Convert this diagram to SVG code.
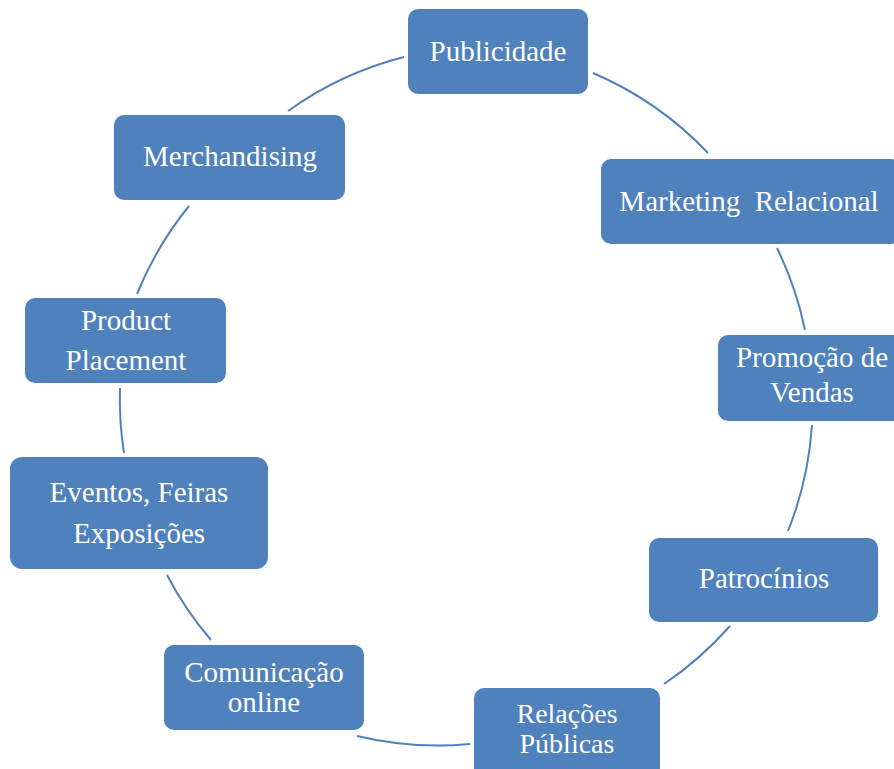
<svg xmlns="http://www.w3.org/2000/svg" width="894" height="769" viewBox="0 0 894 769">
<style>
.box{fill:#4F81BD;}
.t{font-family:"Liberation Serif","DejaVu Serif",serif;font-size:29px;fill:#FFFFFF;text-anchor:middle;}
.c{fill:none;stroke:#4F81BD;stroke-width:2;}
</style>
<rect width="894" height="769" fill="#FFFFFF"/>
<g id="connectors">
<path class="c" d="M288,111 A345,345 0 0 1 404,57"/>
<path class="c" d="M593,73 A345,345 0 0 1 708,153"/>
<path class="c" d="M777,248 A345,345 0 0 1 805,330"/>
<path class="c" d="M812,425 A345,345 0 0 1 788,531"/>
<path class="c" d="M730,626 A345,345 0 0 1 664,684"/>
<path class="c" d="M470,744 A345,345 0 0 1 357,736"/>
<path class="c" d="M211,640 A345,345 0 0 1 167,575"/>
<path class="c" d="M124,453 A345,345 0 0 1 120,388"/>
<path class="c" d="M137,294 A345,345 0 0 1 189,206"/>
</g>
<g id="publicidade">
<rect class="box" x="408" y="9" width="180" height="85" rx="10"/>
<text class="t" x="498" y="61">Publicidade</text>
</g>
<g id="marketing-relacional">
<rect class="box" x="601" y="159" width="300" height="85" rx="10"/>
<text class="t" x="749" y="211" xml:space="preserve">Marketing  Relacional</text>
</g>
<g id="promocao-vendas">
<rect class="box" x="718" y="335" width="190" height="86" rx="10"/>
<text class="t" x="812" y="367">Promoção de</text>
<text class="t" x="812" y="402">Vendas</text>
</g>
<g id="patrocinios">
<rect class="box" x="649" y="538" width="229" height="84" rx="10"/>
<text class="t" x="764" y="588">Patrocínios</text>
</g>
<g id="relacoes-publicas">
<rect class="box" x="474" y="688" width="186" height="95" rx="10"/>
<text class="t" x="567" y="723" style="font-size:28px">Relações</text>
<text class="t" x="567" y="753" style="font-size:28px">Públicas</text>
</g>
<g id="comunicacao-online">
<rect class="box" x="164" y="645" width="200" height="85" rx="10"/>
<text class="t" x="264" y="682">Comunicação</text>
<text class="t" x="264" y="712">online</text>
</g>
<g id="eventos">
<rect class="box" x="10" y="457" width="258" height="112" rx="12"/>
<text class="t" x="139" y="502">Eventos, Feiras</text>
<text class="t" x="139" y="543">Exposições</text>
</g>
<g id="product-placement">
<rect class="box" x="25" y="298" width="201" height="85" rx="10"/>
<text class="t" x="126" y="330">Product</text>
<text class="t" x="126" y="370">Placement</text>
</g>
<g id="merchandising">
<rect class="box" x="114" y="115" width="231" height="85" rx="10"/>
<text class="t" x="230" y="166">Merchandising</text>
</g>
</svg>
